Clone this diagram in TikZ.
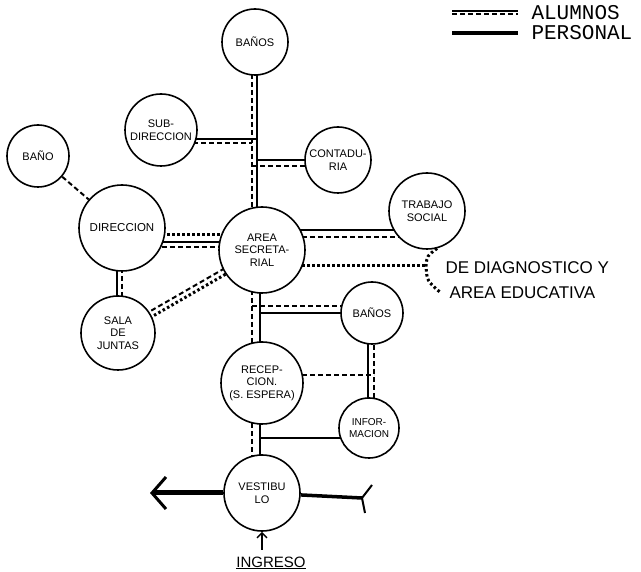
\documentclass[tikz,border=0pt]{standalone}
\usepackage{fontspec}
\setmainfont{Liberation Sans}
\newfontfamily\legendfont{Liberation Mono}
\usetikzlibrary{arrows.meta,positioning,backgrounds}

\begin{document}
\begin{tikzpicture}[
        x=1pt, y=-1pt,
        room/.style={circle, draw, fill=white, line width=1.6pt, inner sep=0pt,
            minimum size=#1, align=center, font=\fontsize{11}{12.5}\selectfont},
        personal/.style={line width=2pt},
        alumnos/.style={line width=2pt, dash pattern=on 5pt off 3pt},
        visita/.style={line width=3pt, dash pattern=on 2.5pt off 2.5pt},
        note/.style={anchor=west, font=\fontsize{17}{19}\selectfont},
        legendtext/.style={anchor=west, font=\legendfont\fontsize{21}{23}\selectfont}
    ]
        \useasboundingbox (0,0) rectangle (641,572);

        % Rooms
        \node[room=66pt] (banos) at (255,42) {BAÑOS};
        \node[room=72pt] (subdir) at (161,130) {SUB-\\DIRECCION};
        \node[room=62pt] (bano) at (38,156) {BAÑO};
        \node[room=66pt] (contad) at (338,160) {CONTADU-\\RIA};
        \node[room=76pt] (trabajo) at (427,211) {TRABAJO\\SOCIAL};
        \node[room=86pt, font=\fontsize{11.5}{13}\selectfont] (direc) at (122,228) {DIRECCION};
        \node[room=86pt] (area) at (262,250) {AREA\\SECRETA-\\RIAL};
        \node[room=74pt] (sala) at (118,333) {SALA\\DE\\JUNTAS};
        \node[room=62pt] (banos2) at (372,313) {BAÑOS};
        \node[room=82pt] (recep) at (262,383) {RECEP-\\CION.\\(S. ESPERA)};
        \node[room=60pt, font=\fontsize{10}{11.5}\selectfont] (info) at (369,428) {INFOR-\\MACION};
        \node[room=76pt] (vest) at (262,493) {VESTIBU\\LO};

        % Legend
        \coordinate (la1) at (452,11);
        \coordinate (la2) at (518,11);
        \coordinate (lb1) at (452,33);
        \coordinate (lb2) at (518,33);
        \draw[personal] (la1) -- (la2);
        \draw[alumnos] ([yshift=-3.5pt]la1) -- ([yshift=-3.5pt]la2);
        \draw[line width=3.5pt] (lb1) -- (lb2);
        \node[legendtext, right=10pt of la2, yshift=-2pt] (alumnostxt) {ALUMNOS};
        \node[legendtext, right=10pt of lb2] (personaltxt) {PERSONAL};

        % Notes
        \node[note] (diag) at (442,268) {DE DIAGNOSTICO Y};
        \node[note] (educ) at (446,293) {AREA EDUCATIVA};
        \coordinate (ing) at (262,550);
        \node[below=3pt of ing, xshift=9pt, font=\fontsize{15}{17}\selectfont] (ingreso) {\underline{INGRESO}};

        % Spine and branch levels
        \coordinate (xa) at (252,0);
        \coordinate (xb) at (257,0);
        \coordinate (xc) at (260,0);
        \coordinate (xd) at (368,0);
        \coordinate (xe) at (374,0);
        \coordinate (xf) at (117,0);
        \coordinate (xg) at (122,0);
        \coordinate (brk) at (426,266);
        \coordinate (brkend) at (441,293);
        \coordinate (cola) at (362,498);
        \coordinate (salida) at (150,493);

        % Connections
        \begin{scope}[on background layer]
            \draw[alumnos] (banos.center -| xa) -- (area.center -| xa);
            \draw[personal] (banos.center -| xb) -- (area.center -| xb);
            \draw[personal] (subdir.center |- 0,139) -- (xb |- 0,139);
            \draw[alumnos] (subdir.center |- 0,143) -- (xa |- 0,143);
            \draw[personal] (xb |- 0,160) -- (contad.center |- 0,160);
            \draw[alumnos] (xa |- 0,166) -- (contad.center |- 0,166);
            \draw[alumnos] (bano) -- (direc);
            \draw[visita] (direc.center |- 0,235) -- (area.center |- 0,235);
            \draw[personal] (direc.center |- 0,242) -- (area.center |- 0,242);
            \draw[alumnos] (direc.center |- 0,247) -- (area.center |- 0,247);
            \draw[personal] (direc.center -| xf) -- (sala.center -| xf);
            \draw[alumnos] (direc.center -| xg) -- (sala.center -| xg);
            \draw[alumnos] ([shift={(-1.4,-2.4)}]sala.center) -- ([shift={(-1.4,-2.4)}]area.center);
            \draw[visita] ([shift={(1.4,2.4)}]sala.center) -- ([shift={(1.4,2.4)}]area.center);
            \draw[personal] (area.center |- 0,230) -- (trabajo.center |- 0,230);
            \draw[alumnos] (area.center |- 0,237) -- (trabajo.center |- 0,237);
            \draw[visita] (area.center |- brk) -- (brk);
            \draw[visita] (trabajo.-75) .. controls (427,256) .. (brk) .. controls (427,281) .. (brkend);
            \draw[alumnos] (area.center -| xa) -- (recep.center -| xa);
            \draw[personal] (area.center -| xc) -- (recep.center -| xc);
            \draw[alumnos] (recep.center -| xa) -- (vest.center -| xa);
            \draw[personal] (recep.center -| xc) -- (vest.center -| xc);
            \draw[alumnos] (xa |- 0,306) -- (banos2.center |- 0,306);
            \draw[personal] (xc |- 0,313) -- (banos2.center |- 0,313);
            \draw[personal] (banos2.center -| xd) -- (info.center -| xd);
            \draw[alumnos] (banos2.center -| xe) -- (info.center -| xe);
            \draw[alumnos] (recep.center |- 0,375) -- (xe |- 0,375);
            \draw[personal] (xc |- 0,438) -- (info.center |- 0,438);
        \end{scope}

        % Exits
        \draw[line width=5pt, -{Straight Barb[length=14pt,width=32pt,line width=3pt]}] (vest) -- (salida);
        \draw[line width=3.5pt] (vest) -- (cola);
        \draw[line width=2pt] (cola) -- ++(10,-13);
        \draw[line width=2pt] (cola) -- ++(3,15);
        \draw[line width=1.4pt, -{Straight Barb[length=5pt,width=10pt]}] (ing) -- (vest);
    \end{tikzpicture}
\end{document}
